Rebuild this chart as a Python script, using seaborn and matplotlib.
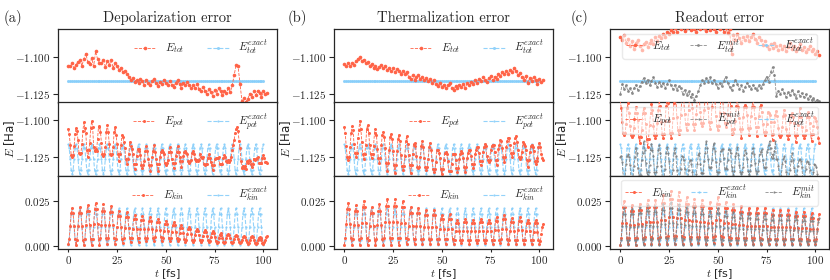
import numpy as np
import matplotlib
matplotlib.use("Agg")
import matplotlib.pyplot as plt
import seaborn as sns
from matplotlib.ticker import FuncFormatter, MultipleLocator

sns.set_style("ticks")
plt.rcParams["font.family"] = ["DejaVu Sans"]
plt.rcParams["mathtext.fontset"] = "cm"
plt.rcParams["axes.linewidth"] = 0.9

# =========================
# data (energies in mHa, time in fs)
# total energies read at 1 fs, kinetic / potential at 0.5 fs
# =========================
t = np.arange(0, 103)
t_half = np.arange(0, 102.5, 0.5)
t_exact = np.arange(0, 101)
t_exact_half = np.arange(0, 100.5, 0.5)

tot_exact = [
    -1116.2, -1116.2, -1116.2, -1116.2, -1116.2, -1116.2, -1116.2, -1116.2, -1116.2, -1116.2,
    -1116.2, -1116.2, -1116.2, -1116.2, -1116.2, -1116.2, -1116.2, -1116.2, -1116.2, -1116.2,
    -1116.2, -1116.2, -1116.2, -1116.2, -1116.2, -1116.2, -1116.2, -1116.2, -1116.2, -1116.2,
    -1116.2, -1116.2, -1116.2, -1116.2, -1116.2, -1116.2, -1116.2, -1116.2, -1116.2, -1116.2,
    -1116.2, -1116.2, -1116.2, -1116.2, -1116.2, -1116.2, -1116.2, -1116.2, -1116.2, -1116.2,
    -1116.2, -1116.2, -1116.2, -1116.2, -1116.2, -1116.2, -1116.2, -1116.2, -1116.2, -1116.2,
    -1116.2, -1116.2, -1116.2, -1116.2, -1116.2, -1116.2, -1116.2, -1116.2, -1116.2, -1116.2,
    -1116.2, -1116.2, -1116.2, -1116.2, -1116.2, -1116.2, -1116.2, -1116.2, -1116.2, -1116.2,
    -1116.2, -1116.2, -1116.2, -1116.2, -1116.2, -1116.2, -1116.2, -1116.2, -1116.2, -1116.2,
    -1116.2, -1116.2, -1116.2, -1116.2, -1116.2, -1116.2, -1116.2, -1116.2, -1116.2, -1116.2,
    -1116.2,
]
kin_exact = [
    0.3, 3.0, 10.4, 17.8, 20.8, 17.8, 10.4, 3.0,
    0.3, 3.0, 10.4, 17.8, 20.8, 17.8, 10.4, 3.0,
    0.3, 3.0, 10.4, 17.8, 20.8, 17.8, 10.4, 3.0,
    0.3, 3.0, 10.4, 17.8, 20.8, 17.8, 10.4, 3.0,
    0.3, 3.0, 10.4, 17.8, 20.8, 17.8, 10.4, 3.0,
    0.3, 3.0, 10.4, 17.8, 20.8, 17.8, 10.4, 3.0,
    0.3, 3.0, 10.4, 17.8, 20.8, 17.8, 10.4, 3.0,
    0.3, 3.0, 10.4, 17.8, 20.8, 17.8, 10.4, 3.0,
    0.3, 3.0, 10.4, 17.8, 20.8, 17.8, 10.4, 3.0,
    0.3, 3.0, 10.4, 17.8, 20.8, 17.8, 10.4, 3.0,
    0.3, 3.0, 10.4, 17.8, 20.8, 17.8, 10.4, 3.0,
    0.3, 3.0, 10.4, 17.8, 20.8, 17.8, 10.4, 3.0,
    0.3, 3.0, 10.4, 17.8, 20.8, 17.8, 10.4, 3.0,
    0.3, 3.0, 10.4, 17.8, 20.8, 17.8, 10.4, 3.0,
    0.3, 3.0, 10.4, 17.8, 20.8, 17.8, 10.4, 3.0,
    0.3, 3.0, 10.4, 17.8, 20.8, 17.8, 10.4, 3.0,
    0.3, 3.0, 10.4, 17.8, 20.8, 17.8, 10.4, 3.0,
    0.3, 3.0, 10.4, 17.8, 20.8, 17.8, 10.4, 3.0,
    0.3, 3.0, 10.4, 17.8, 20.8, 17.8, 10.4, 3.0,
    0.3, 3.0, 10.4, 17.8, 20.8, 17.8, 10.4, 3.0,
    0.3, 3.0, 10.4, 17.8, 20.8, 17.8, 10.4, 3.0,
    0.3, 3.0, 10.4, 17.8, 20.8, 17.8, 10.4, 3.0,
    0.3, 3.0, 10.4, 17.8, 20.8, 17.8, 10.4, 3.0,
    0.3, 3.0, 10.4, 17.8, 20.8, 17.8, 10.4, 3.0,
    0.3, 3.0, 10.4, 17.8, 20.8, 17.8, 10.4, 3.0,
    0.3,
]
pot_exact = [
    -1116.5, -1119.2, -1126.6, -1134.0, -1137.0, -1134.0, -1126.6, -1119.2,
    -1116.5, -1119.2, -1126.6, -1134.0, -1137.0, -1134.0, -1126.6, -1119.2,
    -1116.5, -1119.2, -1126.6, -1134.0, -1137.0, -1134.0, -1126.6, -1119.2,
    -1116.5, -1119.2, -1126.6, -1134.0, -1137.0, -1134.0, -1126.6, -1119.2,
    -1116.5, -1119.2, -1126.6, -1134.0, -1137.0, -1134.0, -1126.6, -1119.2,
    -1116.5, -1119.2, -1126.6, -1134.0, -1137.0, -1134.0, -1126.6, -1119.2,
    -1116.5, -1119.2, -1126.6, -1134.0, -1137.0, -1134.0, -1126.6, -1119.2,
    -1116.5, -1119.2, -1126.6, -1134.0, -1137.0, -1134.0, -1126.6, -1119.2,
    -1116.5, -1119.2, -1126.6, -1134.0, -1137.0, -1134.0, -1126.6, -1119.2,
    -1116.5, -1119.2, -1126.6, -1134.0, -1137.0, -1134.0, -1126.6, -1119.2,
    -1116.5, -1119.2, -1126.6, -1134.0, -1137.0, -1134.0, -1126.6, -1119.2,
    -1116.5, -1119.2, -1126.6, -1134.0, -1137.0, -1134.0, -1126.6, -1119.2,
    -1116.5, -1119.2, -1126.6, -1134.0, -1137.0, -1134.0, -1126.6, -1119.2,
    -1116.5, -1119.2, -1126.6, -1134.0, -1137.0, -1134.0, -1126.6, -1119.2,
    -1116.5, -1119.2, -1126.6, -1134.0, -1137.0, -1134.0, -1126.6, -1119.2,
    -1116.5, -1119.2, -1126.6, -1134.0, -1137.0, -1134.0, -1126.6, -1119.2,
    -1116.5, -1119.2, -1126.6, -1134.0, -1137.0, -1134.0, -1126.6, -1119.2,
    -1116.5, -1119.2, -1126.6, -1134.0, -1137.0, -1134.0, -1126.6, -1119.2,
    -1116.5, -1119.2, -1126.6, -1134.0, -1137.0, -1134.0, -1126.6, -1119.2,
    -1116.5, -1119.2, -1126.6, -1134.0, -1137.0, -1134.0, -1126.6, -1119.2,
    -1116.5, -1119.2, -1126.6, -1134.0, -1137.0, -1134.0, -1126.6, -1119.2,
    -1116.5, -1119.2, -1126.6, -1134.0, -1137.0, -1134.0, -1126.6, -1119.2,
    -1116.5, -1119.2, -1126.6, -1134.0, -1137.0, -1134.0, -1126.6, -1119.2,
    -1116.5, -1119.2, -1126.6, -1134.0, -1137.0, -1134.0, -1126.6, -1119.2,
    -1116.5, -1119.2, -1126.6, -1134.0, -1137.0, -1134.0, -1126.6, -1119.2,
    -1116.5,
]

# (a) depolarization
tot_a = [
    -1105.5, -1106.0, -1104.0, -1107.0, -1105.0, -1103.0, -1102.0, -1105.5, -1101.0, -1097.5,
    -1103.0, -1104.5, -1100.5, -1106.0, -1096.0, -1101.0, -1103.5, -1104.0, -1101.5, -1106.5,
    -1102.5, -1105.0, -1102.0, -1107.0, -1104.0, -1106.0, -1108.5, -1107.0, -1110.0, -1109.0,
    -1111.5, -1113.0, -1115.5, -1114.0, -1116.5, -1115.0, -1117.5, -1114.5, -1116.0, -1118.5,
    -1115.5, -1117.0, -1119.0, -1116.0, -1114.5, -1117.5, -1119.5, -1116.5, -1118.0, -1115.0,
    -1117.0, -1119.0, -1116.0, -1118.5, -1120.0, -1117.0, -1115.5, -1118.0, -1120.5, -1117.5,
    -1119.0, -1116.5, -1118.5, -1121.0, -1119.0, -1120.5, -1118.0, -1121.5, -1123.0, -1120.0,
    -1122.5, -1125.0, -1121.5, -1123.5, -1126.0, -1122.0, -1124.5, -1121.0, -1123.0, -1125.5,
    -1122.5, -1124.0, -1121.0, -1123.5, -1119.0, -1112.0, -1105.0, -1106.0, -1118.0, -1129.5,
    -1127.5, -1130.0, -1128.0, -1124.5, -1126.5, -1123.0, -1125.5, -1122.5, -1124.0, -1126.5,
    -1123.0, -1125.0, -1124.0,
]
kin_a = [
    0.8, 3.8, 10.9, 18.0, 21.0, 18.0, 10.9, 3.8,
    0.2, 3.4, 10.9, 18.3, 21.5, 18.3, 10.9, 3.4,
    0.5, 3.8, 11.5, 19.2, 22.5, 19.2, 11.5, 3.8,
    0.3, 3.8, 12.1, 20.3, 23.8, 20.3, 12.1, 3.8,
    0.6, 4.0, 11.8, 19.6, 23.0, 19.6, 11.8, 4.0,
    0.8, 4.0, 11.4, 18.8, 22.0, 18.8, 11.4, 4.0,
    1.0, 3.8, 10.3, 16.7, 19.5, 16.7, 10.3, 3.8,
    1.5, 4.1, 10.0, 16.0, 18.5, 16.0, 10.0, 4.1,
    2.0, 4.3, 9.5, 14.8, 17.0, 14.8, 9.5, 4.3,
    2.2, 4.3, 9.4, 14.4, 16.5, 14.4, 9.4, 4.3,
    2.5, 4.5, 9.3, 14.0, 16.0, 14.0, 9.3, 4.5,
    2.8, 4.6, 8.9, 13.2, 15.0, 13.2, 8.9, 4.6,
    2.5, 4.2, 8.3, 12.3, 14.0, 12.3, 8.3, 4.2,
    2.6, 4.2, 7.8, 11.4, 13.0, 11.4, 7.8, 4.2,
    2.4, 3.8, 7.0, 10.1, 11.5, 10.1, 7.0, 3.8,
    2.2, 3.4, 6.4, 9.3, 10.5, 9.3, 6.4, 3.4,
    2.0, 3.1, 5.8, 8.4, 9.5, 8.4, 5.8, 3.1,
    2.0, 3.0, 5.3, 7.5, 8.5, 7.5, 5.3, 3.0,
    1.8, 2.7, 4.9, 7.1, 8.0, 7.1, 4.9, 2.7,
    1.5, 2.3, 4.3, 6.2, 7.0, 6.2, 4.3, 2.3,
    1.5, 2.3, 4.0, 5.8, 6.5, 5.8, 4.0, 2.3,
    1.4, 2.1, 3.7, 5.3, 6.0, 5.3, 3.7, 2.1,
    1.3, 1.9, 3.4, 4.9, 5.5, 4.9, 3.4, 1.9,
    1.0, 1.7, 3.3, 4.8, 5.5, 4.8, 3.3, 1.7,
    1.0, 1.6, 3.0, 4.4, 5.0, 4.4, 3.0, 1.6,
    1.2, 1.8, 3.4, 4.9, 5.5,
]
pot_a = [
    -1106.3, -1109.4, -1116.9, -1123.6, -1125.0, -1123.6, -1117.9, -1109.4,
    -1105.2, -1107.3, -1113.9, -1122.2, -1123.5, -1122.2, -1116.4, -1107.3,
    -1101.5, -1105.3, -1109.0, -1120.7, -1125.5, -1120.7, -1116.0, -1105.3,
    -1100.8, -1104.7, -1118.1, -1121.2, -1119.8, -1121.2, -1113.1, -1104.7,
    -1104.1, -1107.9, -1115.8, -1123.5, -1124.5, -1123.5, -1118.3, -1107.9,
    -1103.3, -1108.1, -1116.4, -1122.9, -1124.0, -1122.9, -1118.4, -1108.1,
    -1105.0, -1110.2, -1116.3, -1123.1, -1128.0, -1123.1, -1117.3, -1110.2,
    -1111.5, -1115.0, -1119.0, -1126.9, -1130.0, -1126.9, -1123.0, -1115.0,
    -1117.5, -1119.6, -1123.5, -1130.1, -1133.5, -1130.1, -1124.5, -1119.6,
    -1119.7, -1120.9, -1123.9, -1131.0, -1132.5, -1131.0, -1127.9, -1120.9,
    -1118.0, -1121.4, -1126.3, -1130.9, -1135.0, -1130.9, -1125.3, -1121.4,
    -1117.3, -1121.6, -1126.4, -1130.2, -1134.5, -1130.2, -1125.4, -1121.6,
    -1120.5, -1121.5, -1123.3, -1129.6, -1131.0, -1129.6, -1127.3, -1121.5,
    -1118.6, -1122.1, -1126.3, -1129.3, -1133.0, -1129.3, -1124.8, -1122.1,
    -1117.9, -1121.7, -1125.0, -1128.0, -1132.0, -1128.0, -1124.5, -1121.7,
    -1121.2, -1122.2, -1122.9, -1128.1, -1129.0, -1128.1, -1127.4, -1122.2,
    -1121.0, -1122.9, -1126.3, -1128.2, -1127.5, -1128.2, -1127.3, -1122.9,
    -1125.0, -1125.6, -1125.3, -1130.1, -1131.0, -1130.1, -1130.3, -1125.6,
    -1123.3, -1126.0, -1128.4, -1130.4, -1134.0, -1130.4, -1126.9, -1126.0,
    -1126.0, -1125.8, -1125.3, -1129.7, -1130.0, -1129.7, -1129.8, -1125.8,
    -1124.0, -1125.1, -1128.0, -1128.6, -1127.5, -1128.6, -1127.5, -1125.1,
    -1120.4, -1117.0, -1113.5, -1109.0, -1106.0, -1104.5, -1107.5, -1114.0,
    -1119.3, -1128.2, -1132.9, -1131.2, -1133.0, -1131.2, -1133.4, -1128.2,
    -1129.0, -1127.2, -1127.8, -1130.3, -1132.0, -1130.3, -1126.3, -1127.2,
    -1126.5, -1126.2, -1125.5, -1129.0, -1129.0, -1129.0, -1129.5, -1126.2,
    -1124.2, -1125.8, -1128.4, -1128.9, -1129.5,
]

# (b) thermalization
tot_b = [
    -1104.5, -1105.5, -1103.5, -1106.0, -1104.0, -1105.0, -1102.5, -1101.0, -1100.0, -1102.5,
    -1101.5, -1104.0, -1103.0, -1106.0, -1104.5, -1107.0, -1105.5, -1108.0, -1106.5, -1105.0,
    -1107.5, -1106.0, -1108.5, -1107.0, -1109.0, -1107.5, -1110.0, -1108.0, -1109.5, -1111.0,
    -1109.0, -1111.5, -1110.0, -1113.0, -1114.5, -1112.0, -1115.0, -1113.5, -1112.0, -1114.5,
    -1113.0, -1115.5, -1114.0, -1116.0, -1114.5, -1117.0, -1115.5, -1118.0, -1119.5, -1117.0,
    -1120.0, -1118.5, -1121.0, -1119.0, -1117.5, -1120.5, -1122.0, -1119.5, -1121.0, -1118.5,
    -1120.0, -1118.0, -1120.5, -1117.5, -1119.0, -1116.5, -1118.0, -1115.5, -1117.0, -1114.5,
    -1116.0, -1113.5, -1115.0, -1116.5, -1114.0, -1112.5, -1115.5, -1113.0, -1114.5, -1111.0,
    -1112.5, -1110.0, -1111.5, -1109.0, -1111.0, -1108.5, -1110.0, -1107.5, -1109.5, -1112.0,
    -1110.5, -1113.5, -1115.0, -1112.5, -1117.5, -1114.0, -1116.0, -1113.0, -1115.5, -1118.0,
    -1114.5, -1116.5, -1115.0,
]
kin_b = [
    0.5, 4.0, 12.3, 20.5, 24.0, 20.5, 12.3, 4.0,
    0.3, 3.6, 11.4, 19.2, 22.5, 19.2, 11.4, 3.6,
    0.4, 4.1, 12.7, 21.3, 25.0, 21.3, 12.7, 4.1,
    0.2, 3.4, 10.9, 18.3, 21.5, 18.3, 10.9, 3.4,
    0.5, 3.9, 11.8, 19.6, 23.0, 19.6, 11.8, 3.9,
    0.4, 4.2, 13.2, 22.2, 26.0, 22.2, 13.2, 4.2,
    0.6, 4.4, 13.3, 22.2, 26.0, 22.2, 13.3, 4.4,
    0.5, 4.2, 12.8, 21.3, 25.0, 21.3, 12.8, 4.2,
    0.8, 3.9, 11.2, 18.4, 21.5, 18.4, 11.2, 3.9,
    0.7, 3.7, 10.9, 18.0, 21.0, 18.0, 10.9, 3.7,
    1.0, 3.9, 10.5, 17.2, 20.0, 17.2, 10.5, 3.9,
    1.0, 3.9, 10.5, 17.2, 20.0, 17.2, 10.5, 3.9,
    1.2, 3.6, 9.1, 14.6, 17.0, 14.6, 9.1, 3.6,
    1.0, 3.5, 9.3, 15.0, 17.5, 15.0, 9.3, 3.5,
    1.2, 3.2, 7.9, 12.5, 14.5, 12.5, 7.9, 3.2,
    1.4, 3.4, 8.2, 13.0, 15.0, 13.0, 8.2, 3.4,
    1.2, 3.2, 7.9, 12.5, 14.5, 12.5, 7.9, 3.2,
    1.3, 3.4, 8.2, 13.0, 15.0, 13.0, 8.2, 3.4,
    1.4, 3.4, 8.0, 12.5, 14.5, 12.5, 8.0, 3.4,
    1.2, 3.4, 8.6, 13.8, 16.0, 13.8, 8.6, 3.4,
    1.3, 3.7, 9.2, 14.6, 17.0, 14.6, 9.2, 3.7,
    1.0, 3.2, 8.3, 13.3, 15.5, 13.3, 8.3, 3.2,
    1.2, 3.4, 8.6, 13.8, 16.0, 13.8, 8.6, 3.4,
    1.2, 3.2, 7.9, 12.5, 14.5, 12.5, 7.9, 3.2,
    1.0, 3.0, 7.8, 12.5, 14.5, 12.5, 7.8, 3.0,
    1.2, 2.8, 6.6, 10.4, 12.0,
]
pot_b = [
    -1105.0, -1108.9, -1117.8, -1125.4, -1127.5, -1125.4, -1118.3, -1108.9,
    -1104.3, -1106.7, -1116.4, -1122.3, -1125.0, -1122.3, -1112.4, -1106.7,
    -1100.4, -1106.1, -1115.2, -1123.3, -1126.5, -1123.3, -1116.7, -1106.1,
    -1103.2, -1108.5, -1116.9, -1123.4, -1126.0, -1123.4, -1117.9, -1108.5,
    -1106.0, -1110.2, -1119.8, -1125.9, -1129.5, -1125.9, -1116.8, -1110.2,
    -1107.9, -1111.5, -1119.2, -1129.5, -1134.5, -1129.5, -1120.2, -1111.5,
    -1109.6, -1113.0, -1120.8, -1130.8, -1136.0, -1130.8, -1121.3, -1113.0,
    -1110.0, -1114.5, -1123.8, -1131.6, -1134.0, -1131.6, -1124.3, -1114.5,
    -1110.8, -1116.3, -1124.2, -1130.8, -1136.0, -1130.8, -1123.2, -1116.3,
    -1115.7, -1117.5, -1124.4, -1131.8, -1133.0, -1131.8, -1125.4, -1117.5,
    -1114.0, -1118.5, -1126.0, -1131.8, -1134.0, -1131.8, -1126.5, -1118.5,
    -1115.5, -1120.2, -1127.5, -1133.5, -1135.5, -1133.5, -1128.5, -1120.2,
    -1120.7, -1122.4, -1126.1, -1133.4, -1137.0, -1133.4, -1127.6, -1122.4,
    -1122.0, -1123.0, -1128.3, -1134.5, -1135.0, -1134.5, -1129.8, -1123.0,
    -1123.2, -1123.5, -1127.4, -1132.8, -1135.5, -1132.8, -1126.4, -1123.5,
    -1121.4, -1122.4, -1126.2, -1132.0, -1135.5, -1132.0, -1125.7, -1122.4,
    -1120.2, -1120.5, -1124.4, -1129.8, -1132.5, -1129.8, -1123.4, -1120.5,
    -1118.3, -1118.7, -1122.7, -1128.3, -1131.0, -1128.3, -1121.7, -1118.7,
    -1116.4, -1117.9, -1124.5, -1127.0, -1128.5, -1127.0, -1120.5, -1117.9,
    -1116.7, -1116.9, -1121.6, -1127.3, -1130.5, -1127.3, -1119.6, -1116.9,
    -1113.8, -1114.5, -1119.2, -1125.4, -1128.5, -1125.4, -1118.2, -1114.5,
    -1112.0, -1112.5, -1116.8, -1122.6, -1125.5, -1122.6, -1115.8, -1112.5,
    -1110.7, -1114.8, -1120.6, -1125.2, -1126.5, -1125.2, -1122.1, -1114.8,
    -1116.2, -1118.0, -1120.4, -1127.3, -1132.0, -1127.3, -1121.9, -1118.0,
    -1117.0, -1118.6, -1120.8, -1128.1, -1130.0, -1128.1, -1125.8, -1118.6,
    -1115.7, -1118.1, -1123.1, -1125.7, -1127.0,
]

# (c) readout error, raw and mitigated
tot_c = [
    -1086.0, -1088.5, -1085.0, -1090.0, -1087.5, -1092.5, -1089.0, -1094.0, -1090.5, -1088.0,
    -1092.0, -1095.0, -1091.0, -1089.5, -1093.0, -1090.0, -1088.0, -1091.0, -1086.5, -1089.0,
    -1085.5, -1087.0, -1084.0, -1086.0, -1083.0, -1084.5, -1081.5, -1083.0, -1080.0, -1082.5,
    -1079.5, -1081.0, -1078.5, -1082.0, -1080.0, -1079.0, -1081.5, -1078.0, -1080.5, -1082.5,
    -1079.5, -1081.0, -1078.5, -1080.0, -1082.0, -1079.0, -1081.5, -1078.0, -1080.5, -1083.0,
    -1079.5, -1081.0, -1078.5, -1082.5, -1080.0, -1083.5, -1081.0, -1097.5, -1085.0, -1088.0,
    -1084.5, -1087.0, -1090.5, -1086.0, -1088.5, -1085.5, -1089.0, -1086.5, -1084.0, -1087.5,
    -1090.0, -1086.0, -1088.5, -1091.5, -1089.0, -1092.0, -1094.5, -1091.0, -1093.5, -1090.5,
    -1092.5, -1095.0, -1091.5, -1094.0, -1092.0, -1095.5, -1093.0, -1090.5, -1094.5, -1092.0,
    -1096.0, -1093.5, -1091.0, -1095.0, -1093.0, -1096.5, -1094.0, -1092.5, -1096.0, -1094.5,
    -1097.5, -1095.5, -1098.5,
]
tot_c_mit = [
    -1125.0, -1118.0, -1121.5, -1119.0, -1123.0, -1120.5, -1124.0, -1121.0, -1118.5, -1122.0,
    -1119.5, -1116.5, -1114.0, -1117.5, -1115.0, -1119.0, -1116.0, -1113.5, -1117.0, -1120.0,
    -1116.5, -1119.5, -1117.0, -1121.0, -1118.0, -1115.5, -1119.0, -1121.5, -1118.5, -1122.0,
    -1119.5, -1121.0, -1124.5, -1122.0, -1125.5, -1123.0, -1127.0, -1124.5, -1128.5, -1126.0,
    -1123.0, -1119.0, -1115.5, -1117.0, -1114.0, -1116.5, -1113.5, -1117.5, -1115.0, -1118.0,
    -1120.5, -1117.0, -1119.5, -1116.0, -1113.0, -1117.0, -1120.0, -1122.0, -1118.5, -1115.0,
    -1118.0, -1121.5, -1119.0, -1122.5, -1120.0, -1117.0, -1119.5, -1121.5, -1118.5, -1120.5,
    -1122.0, -1119.0, -1121.0, -1118.0, -1115.5, -1113.0, -1116.5, -1110.0, -1106.5, -1112.0,
    -1126.0, -1122.5, -1125.0, -1121.5, -1124.0, -1127.0, -1123.5, -1125.5, -1122.0, -1124.5,
    -1127.5, -1123.0, -1126.0, -1124.0, -1127.0, -1125.0, -1128.0, -1126.0, -1129.0, -1127.5,
    -1130.0, -1128.5, -1129.5,
]
kin_c = [
    0.5, 4.2, 12.8, 21.3, 25.0, 21.3, 12.8, 4.2,
    0.8, 4.1, 11.7, 19.2, 22.5, 19.2, 11.7, 4.1,
    0.6, 4.0, 12.1, 20.1, 23.5, 20.1, 12.1, 4.0,
    0.9, 4.6, 13.2, 21.8, 25.5, 21.8, 13.2, 4.6,
    0.7, 4.4, 13.1, 21.8, 25.5, 21.8, 13.1, 4.4,
    1.0, 5.1, 14.5, 24.0, 28.0, 24.0, 14.5, 5.1,
    1.2, 5.6, 15.9, 26.1, 30.5, 26.1, 15.9, 5.6,
    1.0, 5.4, 15.5, 25.7, 30.0, 25.7, 15.5, 5.4,
    1.2, 5.1, 14.1, 23.1, 27.0, 23.1, 14.1, 5.1,
    1.0, 4.8, 13.5, 22.3, 26.0, 22.3, 13.5, 4.8,
    1.3, 4.9, 13.4, 21.9, 25.5, 21.9, 13.4, 4.9,
    1.1, 4.6, 12.8, 21.0, 24.5, 21.0, 12.8, 4.6,
    1.4, 5.2, 14.2, 23.2, 27.0, 23.2, 14.2, 5.2,
    1.2, 4.7, 12.9, 21.0, 24.5, 21.0, 12.9, 4.7,
    1.0, 4.4, 12.3, 20.1, 23.5, 20.1, 12.3, 4.4,
    1.3, 4.4, 11.7, 18.9, 22.0, 18.9, 11.7, 4.4,
    1.0, 4.0, 11.0, 18.0, 21.0, 18.0, 11.0, 4.0,
    1.2, 4.2, 11.1, 18.0, 21.0, 18.0, 11.1, 4.2,
    0.9, 3.9, 11.0, 18.0, 21.0, 18.0, 11.0, 3.9,
    1.0, 3.9, 10.5, 17.2, 20.0, 17.2, 10.5, 3.9,
    1.1, 3.9, 10.6, 17.2, 20.0, 17.2, 10.6, 3.9,
    0.9, 3.8, 10.5, 17.1, 20.0, 17.1, 10.5, 3.8,
    1.0, 3.7, 10.0, 16.3, 19.0, 16.3, 10.0, 3.7,
    1.0, 3.7, 10.0, 16.3, 19.0, 16.3, 10.0, 3.7,
    0.8, 3.4, 9.4, 15.4, 18.0, 15.4, 9.4, 3.4,
    1.0, 3.5, 9.3, 15.0, 17.5,
]
kin_c_mit = [
    0.3, 3.4, 10.7, 17.9, 21.0, 17.9, 10.7, 3.4,
    0.4, 3.4, 10.5, 17.5, 20.5, 17.5, 10.5, 3.4,
    0.3, 3.5, 10.9, 18.3, 21.5, 18.3, 10.9, 3.5,
    0.5, 3.8, 11.5, 19.2, 22.5, 19.2, 11.5, 3.8,
    0.4, 3.6, 11.2, 18.8, 22.0, 18.8, 11.2, 3.6,
    0.6, 4.0, 12.1, 20.1, 23.5, 20.1, 12.1, 4.0,
    0.5, 4.1, 12.5, 20.9, 24.5, 20.9, 12.5, 4.1,
    0.7, 4.1, 12.1, 20.1, 23.5, 20.1, 12.1, 4.1,
    0.5, 3.7, 11.3, 18.8, 22.0, 18.8, 11.3, 3.7,
    0.6, 3.7, 11.1, 18.4, 21.5, 18.4, 11.1, 3.7,
    0.8, 3.8, 10.7, 17.5, 20.5, 17.5, 10.7, 3.8,
    0.6, 3.4, 10.1, 16.7, 19.5, 16.7, 10.1, 3.4,
    0.7, 3.7, 10.9, 18.0, 21.0, 18.0, 10.9, 3.7,
    0.6, 3.4, 10.1, 16.7, 19.5, 16.7, 10.1, 3.4,
    0.5, 3.3, 9.8, 16.2, 19.0, 16.2, 9.8, 3.3,
    0.7, 3.3, 9.4, 15.4, 18.0, 15.4, 9.4, 3.3,
    0.5, 3.1, 9.3, 15.4, 18.0, 15.4, 9.3, 3.1,
    0.6, 3.1, 9.1, 15.0, 17.5, 15.0, 9.1, 3.1,
    0.5, 3.1, 9.0, 15.0, 17.5, 15.0, 9.0, 3.1,
    0.6, 3.1, 8.8, 14.5, 17.0, 14.5, 8.8, 3.1,
    0.5, 3.0, 8.8, 14.5, 17.0, 14.5, 8.8, 3.0,
    0.6, 3.0, 8.6, 14.1, 16.5, 14.1, 8.6, 3.0,
    0.5, 2.9, 8.5, 14.1, 16.5, 14.1, 8.5, 2.9,
    0.5, 2.8, 8.3, 13.7, 16.0, 13.7, 8.3, 2.8,
    0.4, 2.7, 8.2, 13.7, 16.0, 13.7, 8.2, 2.7,
    0.5, 2.8, 8.0, 13.3, 15.5,
]
pot_c = [
    -1086.5, -1091.6, -1101.3, -1108.7, -1110.0, -1108.7, -1102.8, -1091.6,
    -1088.3, -1094.9, -1104.2, -1110.0, -1111.5, -1110.0, -1105.7, -1094.9,
    -1091.1, -1095.4, -1100.1, -1111.5, -1115.5, -1111.5, -1107.1, -1095.4,
    -1091.9, -1095.5, -1102.7, -1112.7, -1118.5, -1112.7, -1103.2, -1095.5,
    -1088.7, -1093.0, -1104.1, -1110.4, -1112.0, -1110.4, -1102.1, -1093.0,
    -1086.5, -1090.7, -1101.5, -1109.6, -1112.0, -1109.6, -1100.5, -1090.7,
    -1084.2, -1088.6, -1100.4, -1109.1, -1112.0, -1109.1, -1098.9, -1088.6,
    -1081.0, -1086.2, -1098.0, -1106.5, -1109.5, -1106.5, -1096.5, -1086.2,
    -1079.7, -1085.0, -1096.1, -1103.0, -1107.0, -1103.0, -1093.1, -1085.0,
    -1082.5, -1085.4, -1091.5, -1102.9, -1106.5, -1102.9, -1096.0, -1085.4,
    -1080.8, -1084.7, -1094.4, -1101.7, -1104.0, -1101.7, -1093.4, -1084.7,
    -1083.1, -1084.7, -1091.8, -1101.1, -1106.0, -1101.1, -1090.8, -1084.7,
    -1081.9, -1086.2, -1097.2, -1104.2, -1106.5, -1104.2, -1095.2, -1086.2,
    -1079.7, -1085.8, -1095.4, -1102.1, -1104.5, -1102.1, -1096.4, -1085.8,
    -1082.0, -1090.4, -1109.8, -1106.1, -1108.5, -1106.1, -1100.3, -1090.4,
    -1085.8, -1091.4, -1098.7, -1105.9, -1112.5, -1105.9, -1097.7, -1091.4,
    -1089.5, -1091.4, -1096.5, -1105.4, -1110.0, -1105.4, -1097.5, -1091.4,
    -1085.2, -1091.1, -1098.6, -1104.9, -1111.0, -1104.9, -1097.1, -1091.1,
    -1089.4, -1094.2, -1102.5, -1108.3, -1110.0, -1108.3, -1103.0, -1094.2,
    -1095.5, -1096.3, -1101.5, -1109.6, -1113.5, -1109.6, -1101.0, -1096.3,
    -1093.6, -1097.2, -1105.6, -1110.5, -1111.5, -1110.5, -1104.6, -1097.2,
    -1092.9, -1096.6, -1106.0, -1109.9, -1113.0, -1109.9, -1101.0, -1096.6,
    -1095.5, -1097.7, -1102.0, -1110.3, -1115.0, -1110.3, -1103.5, -1097.7,
    -1092.0, -1097.6, -1105.0, -1110.2, -1112.0, -1110.2, -1106.5, -1097.6,
    -1094.8, -1097.7, -1101.9, -1109.7, -1114.0, -1109.7, -1103.9, -1097.7,
    -1098.5, -1100.7, -1104.8, -1112.2, -1116.0,
]
pot_c_mit = [
    -1125.3, -1124.3, -1128.7, -1138.8, -1142.5, -1138.8, -1129.7, -1124.3,
    -1123.4, -1125.5, -1131.0, -1139.6, -1144.5, -1139.6, -1131.5, -1125.5,
    -1118.8, -1122.6, -1132.9, -1137.4, -1141.0, -1137.4, -1127.4, -1122.6,
    -1114.5, -1120.2, -1129.0, -1135.6, -1137.5, -1135.6, -1130.5, -1120.2,
    -1116.4, -1120.2, -1124.7, -1135.4, -1139.0, -1135.4, -1131.2, -1120.2,
    -1117.1, -1122.5, -1131.6, -1138.6, -1140.5, -1138.6, -1133.1, -1122.5,
    -1118.5, -1122.6, -1128.0, -1139.4, -1143.5, -1139.4, -1134.0, -1122.6,
    -1119.2, -1124.4, -1134.1, -1140.4, -1143.0, -1140.4, -1133.1, -1124.4,
    -1125.0, -1127.5, -1133.3, -1142.6, -1147.5, -1142.6, -1134.3, -1127.5,
    -1127.6, -1130.2, -1135.6, -1144.9, -1150.0, -1144.9, -1137.1, -1130.2,
    -1123.8, -1122.4, -1129.7, -1136.1, -1136.0, -1136.1, -1127.7, -1122.4,
    -1114.6, -1118.8, -1126.6, -1132.1, -1133.0, -1132.1, -1127.6, -1118.8,
    -1115.7, -1121.3, -1128.9, -1135.6, -1141.5, -1135.6, -1127.9, -1121.3,
    -1120.1, -1119.8, -1126.1, -1133.1, -1132.5, -1133.1, -1127.1, -1119.8,
    -1120.5, -1122.2, -1131.8, -1135.1, -1137.5, -1135.1, -1124.8, -1122.2,
    -1118.7, -1123.6, -1130.9, -1135.7, -1137.0, -1135.7, -1131.9, -1123.6,
    -1120.5, -1122.6, -1126.3, -1134.9, -1137.5, -1134.9, -1130.8, -1122.6,
    -1119.1, -1123.1, -1129.6, -1135.0, -1139.5, -1135.0, -1128.1, -1123.1,
    -1121.5, -1120.0, -1127.0, -1131.9, -1133.0, -1131.9, -1122.0, -1120.0,
    -1117.1, -1114.4, -1118.8, -1125.8, -1123.5, -1125.8, -1120.8, -1114.4,
    -1126.5, -1126.8, -1131.3, -1138.3, -1142.0, -1138.3, -1130.3, -1126.8,
    -1124.6, -1128.0, -1135.6, -1139.1, -1140.0, -1139.1, -1134.1, -1128.0,
    -1122.5, -1127.2, -1133.0, -1138.4, -1144.0, -1138.4, -1131.5, -1127.2,
    -1126.5, -1128.3, -1132.3, -1139.2, -1143.0, -1139.2, -1133.3, -1128.3,
    -1128.4, -1130.3, -1134.2, -1141.3, -1145.0, -1141.3, -1135.7, -1130.3,
    -1130.5, -1132.1, -1136.5, -1142.6, -1145.0,
]

titles = ["Depolarization error", "Thermalization error", "Readout error"]
tags = ["(a)", "(b)", "(c)"]

# =========================
# style
# =========================
red = "tomato"
blue = "lightskyblue"
grey = "#808080"

W, H = 830, 280
col_left = [58.3, 334.3, 610.3]
col_w = 219
row_top = [29.3, 102.5, 175.7]
row_h = 73.2
tag_x = [4, 288, 571]

ylims = [(-1.1305, -1.081), (-1.138, -1.088), (-0.0018, 0.039)]


def to_ha(v):
    return np.asarray(v) / 1000.0


def draw(ax, x, y, color, label, ms, lw, alpha=1.0, z=2):
    sns.lineplot(x=x, y=to_ha(y), ax=ax, color=color, label=label,
                 marker="o", markersize=ms, markeredgewidth=0,
                 linestyle="--", linewidth=lw, alpha=alpha, zorder=z,
                 estimator=None, sort=False)


def math_fmt(v, pos):
    return f"${v:.3f}$"


fig = plt.figure(figsize=(W / 100, H / 100), dpi=100)

for c in range(3):
    axes = []
    for r in range(3):
        ax = fig.add_axes([col_left[c] / W, 1 - (row_top[r] + row_h) / H,
                           col_w / W, row_h / H])
        axes.append(ax)
    ax_tot, ax_pot, ax_kin = axes

    # noisy runs on top (z=3), exact reference underneath (z=2)
    if c == 0:
        draw(ax_tot, t, tot_a, red, r"$E_{tot}$", 2.6, 0.6, z=3)
        draw(ax_pot, t_half, pot_a, red, r"$E_{pot}$", 2.2, 0.6, z=3)
        draw(ax_kin, t_half, kin_a, red, r"$E_{kin}$", 2.2, 0.6, z=3)
    elif c == 1:
        draw(ax_tot, t, tot_b, red, r"$E_{tot}$", 2.6, 0.6, z=3)
        draw(ax_pot, t_half, pot_b, red, r"$E_{pot}$", 2.2, 0.6, z=3)
        draw(ax_kin, t_half, kin_b, red, r"$E_{kin}$", 2.2, 0.6, z=3)
    else:
        draw(ax_tot, t, tot_c, red, r"$E_{tot}$", 2.6, 0.6, z=3)
        draw(ax_tot, t, tot_c_mit, grey, r"$E_{tot}^{mit}$", 2.0, 0.6, 0.9, z=3.5)
        draw(ax_pot, t_half, pot_c, red, r"$E_{pot}$", 2.2, 0.6, z=3)
        draw(ax_pot, t_half, pot_c_mit, grey, r"$E_{pot}^{mit}$", 1.6, 0.6, 0.9, z=3.5)
        draw(ax_kin, t_half, kin_c, red, r"$E_{kin}$", 2.2, 0.6, z=3)

    draw(ax_tot, t_exact, tot_exact, blue, r"$E_{tot}^{exact}$", 2.2, 0.8, 0.9)
    draw(ax_pot, t_exact_half, pot_exact, blue, r"$E_{pot}^{exact}$", 1.6, 0.8, 0.9)
    draw(ax_kin, t_exact_half, kin_exact, blue, r"$E_{kin}^{exact}$", 1.6, 0.8, 0.9)
    if c == 2:
        draw(ax_kin, t_half, kin_c_mit, grey, r"$E_{kin}^{mit}$", 1.6, 0.6, 0.9, z=3.5)

    for r, ax in enumerate(axes):
        ax.set_ylim(*ylims[r])
        ax.yaxis.set_major_locator(MultipleLocator(0.025))
        ax.yaxis.set_major_formatter(FuncFormatter(math_fmt))
        ax.xaxis.set_major_locator(MultipleLocator(25))
        ax.xaxis.set_major_formatter(FuncFormatter(lambda v, p: f"${v:.0f}$"))
        ax.tick_params(labelsize=8, length=3.5, width=0.8, pad=2)
        ax.tick_params(axis="x", length=2.5, pad=1.5)
        ax.set_xlabel("")
        ax.set_ylabel("")
        if r < 2:
            ax.tick_params(bottom=False, labelbottom=False)
        if c < 2:
            ax.legend(loc="upper right", ncol=2, frameon=False, fontsize=8,
                      handlelength=2.0, columnspacing=2.0)
        else:
            leg = ax.legend(loc="upper center", ncol=3, frameon=True, fontsize=8,
                            handlelength=1.6, columnspacing=1.6, framealpha=0.55,
                            edgecolor="0.85", borderaxespad=0.4, borderpad=0.3)
            leg.set_zorder(5)

    ax_pot.set_ylabel(r"$E$ [Ha]", fontsize=8.5)
    ax_pot.yaxis.set_label_coords(-0.19, 0.5)
    ax_kin.set_xlabel(r"$t$ [fs]", fontsize=8)
    ax_kin.xaxis.set_label_coords(0.5, -0.25)

    fig.text((col_left[c] + col_w / 2) / W, 1 - 18 / H, titles[c],
             fontfamily="cmr10", fontsize=10.5, ha="center", va="center")
    fig.text(tag_x[c] / W, 1 - 18 / H, tags[c], fontfamily="cmr10",
             fontsize=10.5, va="center")

fig.savefig("out.png", dpi=100)
